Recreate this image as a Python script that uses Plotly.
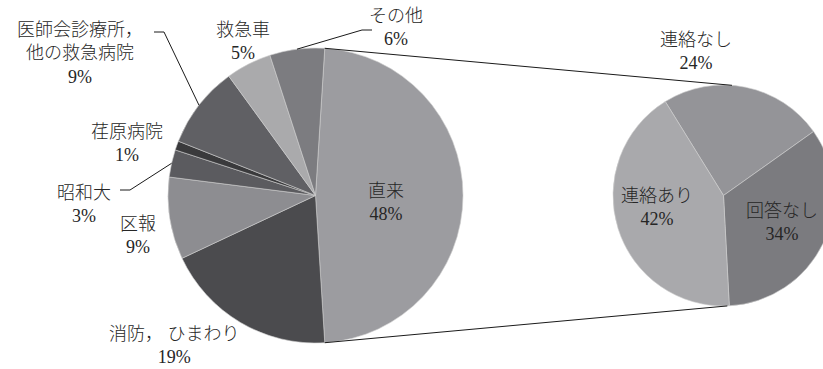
import math
import plotly.graph_objects as go

# ---------------- data ----------------
main_labels = ["直来", "消防，ひまわり", "区報", "昭和大", "荏原病院",
               "医師会診療所，他の救急病院", "救急車", "その他"]
main_values = [48, 19, 9, 3, 1, 9, 5, 6]
main_colors = ["#9c9ca0", "#4b4b4e", "#8d8d91", "#5b5b5f", "#3a3a3c",
               "#606064", "#aaaaac", "#7c7c80"]

sub_labels = ["連絡なし", "回答なし", "連絡あり"]
sub_values = [24, 34, 42]
sub_colors = ["#949498", "#7b7b7f", "#a9a9ac"]

# ---------------- geometry (pixels) ----------------
W, H = 840, 369          # figure a bit wider than the 823 window -> right pie clipped
MAIN_C, MAIN_R = (315.5, 195.5), 147.5
SUB_C, SUB_R = (723.5, 195.5), 110.5

def px(x):
    return x / W

def py(y):
    return 1 - y / H

# the split slice (first) is centred on 3 o'clock
main_rot = 90 - main_values[0] / sum(main_values) * 360 / 2
sub_rot = -31.8

def edge(center, r, ang_deg):
    a = math.radians(ang_deg)
    return (center[0] + r * math.sin(a), center[1] - r * math.cos(a))

def mid_angle(values, idx, rot):
    tot = sum(values)
    start = rot + sum(values[:idx]) / tot * 360
    return start + values[idx] / tot * 360 / 2

fig = go.Figure()

fig.add_trace(go.Pie(
    labels=main_labels, values=main_values, sort=False, direction="clockwise",
    rotation=main_rot, textinfo="none", hoverinfo="label+percent",
    marker=dict(colors=main_colors, line=dict(color="#cfcfcf", width=0.6)),
    domain=dict(x=[px(MAIN_C[0] - MAIN_R), px(MAIN_C[0] + MAIN_R)],
                y=[py(MAIN_C[1] + MAIN_R), py(MAIN_C[1] - MAIN_R)]),
    showlegend=False,
))

fig.add_trace(go.Pie(
    labels=sub_labels, values=sub_values, sort=False, direction="clockwise",
    rotation=sub_rot, textinfo="none", hoverinfo="label+percent",
    marker=dict(colors=sub_colors, line=dict(color="#cfcfcf", width=0.6)),
    domain=dict(x=[px(SUB_C[0] - SUB_R), px(SUB_C[0] + SUB_R)],
                y=[py(SUB_C[1] + SUB_R), py(SUB_C[1] - SUB_R)]),
    showlegend=False,
))

shapes = []
LINE = dict(color="#1a1a1a", width=1)

def seg(p, q):
    shapes.append(dict(type="line", xref="paper", yref="paper",
                       x0=px(p[0]), y0=py(p[1]), x1=px(q[0]), y1=py(q[1]), line=LINE))

# connector lines between the two pies
split_start = main_rot
split_end = main_rot + main_values[0] / sum(main_values) * 360
seg(edge(MAIN_C, MAIN_R, split_start), edge(SUB_C, SUB_R, 4.4))
seg(edge(MAIN_C, MAIN_R, split_end), edge(SUB_C, SUB_R, 178.0))

# leader lines (elbow near label -> slice mid on pie edge)
leaders = {3: (120, 130, 190), 5: (154, 164, 32), 7: (372, 362, 30)}
for idx, (xa, xb, yy) in leaders.items():
    seg((xa, yy), (xb, yy))
    seg((xb, yy), edge(MAIN_C, MAIN_R, mid_angle(main_values, idx, main_rot)))

fig.update_layout(shapes=shapes)

FONT = dict(family="Liberation Serif, Noto Sans CJK JP", size=18, color="#262626",
            weight=300)

def pct(values, i):
    return f"{round(values[i] / sum(values) * 100)}%"

main_text = ["直来", "消防， ひまわり", "区報", "昭和大", "荏原病院",
             "医師会診療所，<br>他の救急病院", "救急車", "その他"]
main_pos = [(386, 202.5), (174, 345), (138, 235), (84, 204), (127, 143),
            (80, 53), (243, 41), (396, 28)]
sub_pos = [(696, 51.5), (782, 222.5), (657, 207.5)]

annots = []
for i, (t, (x, y)) in enumerate(zip(main_text, main_pos)):
    annots.append(dict(x=px(x), y=py(y), xref="paper", yref="paper",
                       text=f"{t}<br>{pct(main_values, i)}", showarrow=False,
                       xanchor="center", yanchor="middle", font=FONT, align="center"))
for i, (t, (x, y)) in enumerate(zip(sub_labels, sub_pos)):
    annots.append(dict(x=px(x), y=py(y), xref="paper", yref="paper",
                       text=f"{t}<br>{pct(sub_values, i)}", showarrow=False,
                       xanchor="center", yanchor="middle", font=FONT, align="center"))

fig.update_layout(
    annotations=annots,
    width=W, height=H, autosize=False,
    margin=dict(l=0, r=0, t=0, b=0),
    paper_bgcolor="white", plot_bgcolor="white",
)

fig.write_html(
    "out.html",
    config={"displayModeBar": False},
    post_script="document.documentElement.style.overflow='hidden';"
                "document.body.style.overflow='hidden';document.body.style.margin='0';",
)
